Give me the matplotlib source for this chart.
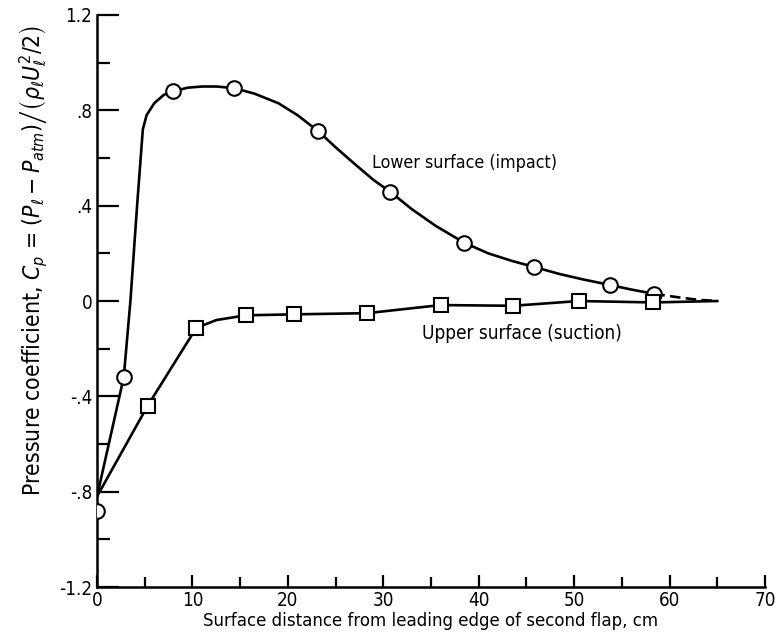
import matplotlib.pyplot as plt
from matplotlib.ticker import MultipleLocator

plt.rcParams['font.family'] = ['DejaVu Sans']
plt.rcParams['font.stretch'] = 'condensed'
plt.rcParams['mathtext.fontset'] = 'dejavusans'

# Измеренные точки (нижняя поверхность, круги)
lower_x = [0, 2.8, 8.0, 14.4, 23.2, 30.7, 38.5, 45.8, 53.8, 58.4]
lower_cp = [-0.88, -0.32, 0.88, 0.893, 0.712, 0.459, 0.244, 0.143, 0.067, 0.03]

# Сглаженная кривая нижней поверхности
lower_curve_x = [0, 2.8, 3.5, 4.2, 4.8, 5.2, 6.0, 7.0, 8.0, 9.5, 11.0, 12.5, 14.4,
                 16.5, 19, 21, 23.2, 25, 27, 29, 30.7, 33, 35.5, 38.5, 41, 43.5,
                 45.8, 48.5, 51, 53.8, 56, 58.4]
lower_curve_cp = [-0.82, -0.32, 0.0, 0.4, 0.72, 0.78, 0.83, 0.865, 0.88, 0.895, 0.90,
                  0.90, 0.893, 0.87, 0.83, 0.78, 0.712, 0.645, 0.575, 0.507, 0.459, 0.385,
                  0.315, 0.244, 0.2, 0.168, 0.143, 0.113, 0.09, 0.067, 0.048, 0.03]
dash_x = [58.4, 61, 63, 65]
dash_cp = [0.03, 0.015, 0.005, 0.0]

# Верхняя поверхность (квадраты)
upper_x = [5.3, 10.4, 15.6, 20.6, 28.3, 36.0, 43.6, 50.5, 58.3]
upper_cp = [-0.44, -0.113, -0.06, -0.056, -0.051, -0.017, -0.02, 0.0, -0.006]
upper_curve_x = [0, 5.3, 10.4, 12.5, 15.6, 20.6, 28.3, 36.0, 43.6, 50.5, 58.3, 65]
upper_curve_cp = [-0.82, -0.44, -0.113, -0.08, -0.06, -0.056, -0.051, -0.017, -0.02, 0.0, -0.006, 0.0]

yticks = [-1.2, -0.8, -0.4, 0, 0.4, 0.8, 1.2]
ytick_labels = ['-1.2', '-.8', '-.4', '0', '.4', '.8', '1.2']

fig = plt.figure(figsize=(7.78, 6.41), dpi=100)
ax = fig.add_axes([0.1247, 0.0842, 0.8586, 0.8924])

ax.plot(lower_curve_x, lower_curve_cp, color='black', lw=1.9)
ax.plot(dash_x, dash_cp, color='black', lw=1.9, linestyle=(0, (4, 2)))
ax.plot(upper_curve_x, upper_curve_cp, color='black', lw=1.9)
ax.plot(lower_x, lower_cp, linestyle='', marker='o', ms=10.5, mfc='white',
        mec='black', mew=1.5, zorder=3)
ax.plot(upper_x, upper_cp, linestyle='', marker='s', ms=10, mfc='white',
        mec='black', mew=1.5, zorder=3)

ax.text(28.8, 0.58, 'Lower surface (impact)', fontsize=12.8, va='center', ha='left')
ax.text(34.1, -0.135, 'Upper surface (suction)', fontsize=13.6, va='center', ha='left')

ax.set_xlim(0, 70)
ax.set_ylim(-1.2, 1.2)
ax.xaxis.set_major_locator(MultipleLocator(10))
ax.xaxis.set_minor_locator(MultipleLocator(5))
ax.set_yticks(yticks)
ax.set_yticklabels(ytick_labels)
ax.yaxis.set_minor_locator(MultipleLocator(0.2))

for s in ['top', 'right']:
    ax.spines[s].set_visible(False)
for s in ['left', 'bottom']:
    ax.spines[s].set_linewidth(1.8)

ax.tick_params(axis='y', which='major', direction='in', length=16, width=1.6, labelsize=13.5)
ax.tick_params(axis='y', which='minor', direction='in', length=9, width=1.6)
ax.tick_params(axis='x', which='major', direction='in', length=9, width=1.6, labelsize=13.5, pad=3)
ax.tick_params(axis='x', which='minor', direction='in', length=7, width=1.6)

ax.set_xlabel('Surface distance from leading edge of second flap, cm', fontsize=13.3, labelpad=1)
fig.text(0.043, 0.593,
         r'Pressure coefficient, $C_p$ = $\left(P_\ell - P_{atm}\right)\left/\left(\rho_\ell U_\ell^2/2\right)\right.$',
         rotation=90, ha='center', va='center', fontsize=16.5)

fig.savefig('out.png', dpi=100)
